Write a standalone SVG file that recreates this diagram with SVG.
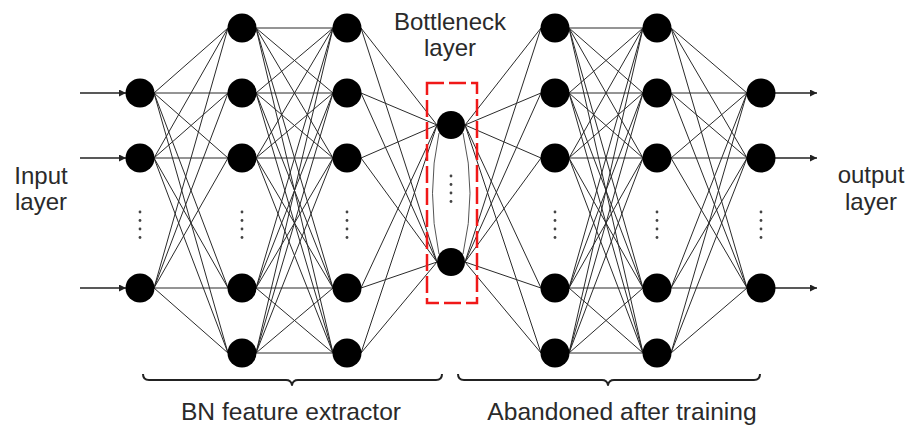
<svg xmlns="http://www.w3.org/2000/svg" width="912" height="427" viewBox="0 0 912 427">
  <style>
    .node { fill: #000; }
    .edge { fill: none; stroke: #2a2a2a; stroke-width: 1; }
    .soft { fill: none; stroke: #555; stroke-width: 1; }
    .io { fill: none; stroke: #222; stroke-width: 1.3; marker-end: url(#tip); }
    .dot { fill: #444; }
    .lbl { font-family: "Liberation Sans", Arial, sans-serif; font-size: 24px; fill: #2a2a2a; text-anchor: middle; }
    .brace { fill: none; stroke: #222; stroke-width: 2; stroke-linejoin: round; }
  </style>
  <defs>
    <marker id="tip" markerUnits="userSpaceOnUse" markerWidth="7" markerHeight="7" refX="7" refY="3.5" orient="auto">
      <path d="M0,0 L7,3.5 L0,7 z" fill="#222"/>
    </marker>
    <g id="vdots">
      <circle cx="0" cy="0" r="1.4"/>
      <circle cx="0" cy="8.5" r="1.4"/>
      <circle cx="0" cy="17" r="1.4"/>
      <circle cx="0" cy="25.5" r="1.4"/>
    </g>
  </defs>

  <rect width="912" height="427" fill="#fff"/>

  <!-- connectors -->
  <g id="connectors">
    <!-- input arrows -->
    <path class="io" d="M80 93H126"/>
    <path class="io" d="M80 158H126"/>
    <path class="io" d="M80 288H126"/>
    <!-- input -> hidden 1 -->
    <path class="edge" d="M154 93L228 28M154 93L228 93M154 93L228 158M154 93L228 288M154 93L228 353
      M154 158L228 28M154 158L228 93M154 158L228 158M154 158L228 288M154 158L228 353
      M154 288L228 28M154 288L228 93M154 288L228 158M154 288L228 288M154 288L228 353"/>
    <!-- hidden 1 -> hidden 2 -->
    <path class="edge" d="M256 28L333 28M256 28L333 93M256 28L333 158M256 28L333 288M256 28L333 353
      M256 93L333 28M256 93L333 93M256 93L333 158M256 93L333 288M256 93L333 353
      M256 158L333 28M256 158L333 93M256 158L333 158M256 158L333 288M256 158L333 353
      M256 288L333 28M256 288L333 93M256 288L333 158M256 288L333 288M256 288L333 353
      M256 353L333 28M256 353L333 93M256 353L333 158M256 353L333 288M256 353L333 353"/>
    <!-- hidden 2 -> bottleneck -->
    <path class="edge" d="M361 28L437 125M361 93L437 125M361 158L437 125M361 288L437 125M361 353L437 125
      M361 28L437 262M361 93L437 262M361 158L437 262M361 288L437 262M361 353L437 262"/>
    <!-- links inside the bottleneck layer -->
    <path class="soft" d="M439 133Q426 193 439 254M463 133Q477 193 463 254"/>
    <!-- bottleneck -> hidden 3 -->
    <path class="edge" d="M465 125L541 28M465 125L541 93M465 125L541 158M465 125L541 288M465 125L541 353
      M465 262L541 28M465 262L541 93M465 262L541 158M465 262L541 288M465 262L541 353"/>
    <!-- hidden 3 -> hidden 4 -->
    <path class="edge" d="M569 28L643 28M569 28L643 93M569 28L643 158M569 28L643 288M569 28L643 353
      M569 93L643 28M569 93L643 93M569 93L643 158M569 93L643 288M569 93L643 353
      M569 158L643 28M569 158L643 93M569 158L643 158M569 158L643 288M569 158L643 353
      M569 288L643 28M569 288L643 93M569 288L643 158M569 288L643 288M569 288L643 353
      M569 353L643 28M569 353L643 93M569 353L643 158M569 353L643 288M569 353L643 353"/>
    <!-- hidden 4 -> output -->
    <path class="edge" d="M671 28L747 93M671 28L747 158M671 28L747 288
      M671 93L747 93M671 93L747 158M671 93L747 288
      M671 158L747 93M671 158L747 158M671 158L747 288
      M671 288L747 93M671 288L747 158M671 288L747 288
      M671 353L747 93M671 353L747 158M671 353L747 288"/>
    <!-- output arrows -->
    <path class="io" d="M775 93H817"/>
    <path class="io" d="M775 158H817"/>
    <path class="io" d="M775 288H817"/>
  </g>

  <!-- bottleneck frame -->
  <rect id="bottleneck-frame" x="427" y="83" width="50" height="220" fill="none" stroke="#f01818" stroke-width="2.5" stroke-dasharray="17 5"/>

  <!-- layers -->
  <g id="input-layer">
    <circle class="node" cx="140" cy="93" r="14.5"/>
    <circle class="node" cx="140" cy="158" r="14.5"/>
    <circle class="node" cx="140" cy="288" r="14.5"/>
    <use href="#vdots" x="140" y="212" class="dot"/>
  </g>
  <g id="hidden-1">
    <circle class="node" cx="242" cy="28" r="14.5"/>
    <circle class="node" cx="242" cy="93" r="14.5"/>
    <circle class="node" cx="242" cy="158" r="14.5"/>
    <circle class="node" cx="242" cy="288" r="14.5"/>
    <circle class="node" cx="242" cy="353" r="14.5"/>
    <use href="#vdots" x="242" y="212" class="dot"/>
  </g>
  <g id="hidden-2">
    <circle class="node" cx="347" cy="28" r="14.5"/>
    <circle class="node" cx="347" cy="93" r="14.5"/>
    <circle class="node" cx="347" cy="158" r="14.5"/>
    <circle class="node" cx="347" cy="288" r="14.5"/>
    <circle class="node" cx="347" cy="353" r="14.5"/>
    <use href="#vdots" x="347" y="212" class="dot"/>
  </g>
  <g id="bottleneck">
    <circle class="node" cx="451" cy="125" r="14"/>
    <circle class="node" cx="451" cy="262" r="14"/>
    <use href="#vdots" x="451" y="176" class="dot"/>
  </g>
  <g id="hidden-3">
    <circle class="node" cx="555" cy="28" r="14.5"/>
    <circle class="node" cx="555" cy="93" r="14.5"/>
    <circle class="node" cx="555" cy="158" r="14.5"/>
    <circle class="node" cx="555" cy="288" r="14.5"/>
    <circle class="node" cx="555" cy="353" r="14.5"/>
    <use href="#vdots" x="555" y="212" class="dot"/>
  </g>
  <g id="hidden-4">
    <circle class="node" cx="657" cy="28" r="14.5"/>
    <circle class="node" cx="657" cy="93" r="14.5"/>
    <circle class="node" cx="657" cy="158" r="14.5"/>
    <circle class="node" cx="657" cy="288" r="14.5"/>
    <circle class="node" cx="657" cy="353" r="14.5"/>
    <use href="#vdots" x="657" y="212" class="dot"/>
  </g>
  <g id="output-layer">
    <circle class="node" cx="761" cy="93" r="14.5"/>
    <circle class="node" cx="761" cy="158" r="14.5"/>
    <circle class="node" cx="761" cy="288" r="14.5"/>
    <use href="#vdots" x="761" y="212" class="dot"/>
  </g>

  <!-- braces -->
  <path class="brace" d="M143 374Q143 380 149 380H286Q291 380 292 385Q293 380 298 380H436Q442 380 442 374"/>
  <path class="brace" d="M458 374Q458 380 464 380H602Q607 380 608 385Q609 380 614 380H754Q760 380 760 374"/>

  <!-- labels -->
  <g id="labels">
    <text class="lbl" x="41" y="184">Input</text>
    <text class="lbl" x="41" y="210">layer</text>
    <text class="lbl" x="450" y="30">Bottleneck</text>
    <text class="lbl" x="450" y="56">layer</text>
    <text class="lbl" x="871" y="183">output</text>
    <text class="lbl" x="871" y="210">layer</text>
    <text class="lbl" x="291" y="420" style="font-size:24.6px">BN feature extractor</text>
    <text class="lbl" x="622" y="420" style="font-size:24.6px">Abandoned after training</text>
  </g>
</svg>
